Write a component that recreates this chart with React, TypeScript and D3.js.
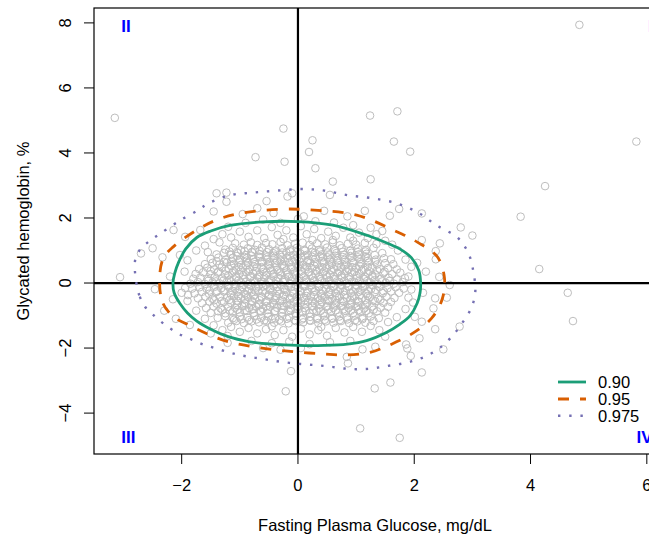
import React from "react";
import * as d3 from "d3";

const W = 649;
const H = 537;

// data ranges (R style: extended by 4%)
const xDataRange: [number, number] = [-3.15, 5.8];
const yDataRange: [number, number] = [-4.75, 7.95];
const xTicks = [-2, 0, 2, 4, 6];
const yTicks = [-4, -2, 0, 2, 4, 6, 8];
const xLabel = "Fasting Plasma Glucose, mg/dL";
const yLabel = "Glycated hemoglobin, %";

const legendLabels = ["0.90", "0.95", "0.975"];
const contourColors = ["#1B9E77", "#D95F02", "#7570B3"];

const quadrantLabels = [
  { label: "II", x: -3.04, y: 7.9, anchor: "start" },
  { label: "I", x: 6.1, y: 7.9, anchor: "end" },
  { label: "III", x: -3.04, y: -4.73, anchor: "start" },
  { label: "IV", x: 6.1, y: -4.73, anchor: "end" },
];

const contour90: [number, number][] = [
  [-2.15, 0], [-2.13, -0.3], [-2.03, -0.63], [-1.9, -0.92], [-1.74, -1.17], [-1.5, -1.42], [-1.2, -1.65],
  [-0.85, -1.8], [-0.45, -1.88], [0, -1.92], [0.45, -1.92], [0.85, -1.88], [1.18, -1.77], [1.52, -1.52],
  [1.75, -1.27], [1.93, -1.0], [2.05, -0.62], [2.1, -0.3], [2.11, 0], [2.08, 0.38], [1.95, 0.78],
  [1.75, 1.05], [1.58, 1.19], [1.2, 1.46], [0.6, 1.78], [0, 1.89], [-0.6, 1.88], [-1.17, 1.77],
  [-1.5, 1.6], [-1.74, 1.4], [-1.93, 1.05], [-2.05, 0.65], [-2.12, 0.3],
];

const contour95: [number, number][] = [
  [-2.38, 0], [-2.32, -0.63], [-2.14, -1.04], [-1.9, -1.27], [-1.54, -1.58], [-1.17, -1.82], [-0.77, -1.96],
  [-0.37, -2.06], [0.03, -2.13], [0.44, -2.18], [0.81, -2.21], [1.24, -2.13], [1.61, -1.88], [1.97, -1.55],
  [2.3, -1.08], [2.48, -0.5], [2.52, 0.15], [2.4, 0.8], [2.06, 1.25], [1.7, 1.58], [1.01, 2.09],
  [0.21, 2.25], [-0.31, 2.27], [-1.0, 2.14], [-1.4, 1.94], [-1.74, 1.63], [-2.14, 1.12], [-2.32, 0.75],
];

const contour975: [number, number][] = [
  [-2.78, 0], [-2.72, -0.42], [-2.63, -0.73], [-2.49, -0.98], [-2.34, -1.21], [-2.17, -1.43], [-2.0, -1.61],
  [-1.81, -1.75], [-1.63, -1.89], [-1.43, -2.0], [-1.23, -2.11], [-1.04, -2.2], [-0.84, -2.27], [-0.62, -2.33],
  [-0.42, -2.39], [-0.22, -2.44], [-0.02, -2.48], [0.19, -2.51], [0.39, -2.54], [0.59, -2.58], [0.8, -2.63],
  [1.0, -2.65], [1.21, -2.64], [1.41, -2.59], [1.61, -2.53], [1.81, -2.47], [2.01, -2.38], [2.2, -2.25],
  [2.38, -2.07], [2.54, -1.84], [2.68, -1.58], [2.8, -1.29], [2.93, -0.95], [3.01, -0.63], [3.05, -0.27],
  [3.04, 0.09], [3.01, 0.42], [2.96, 0.79], [2.87, 1.12], [2.73, 1.42], [2.38, 1.78], [2.07, 2.16],
  [1.7, 2.45], [1.27, 2.61], [0.86, 2.7], [0.46, 2.84], [0.06, 2.89], [-0.37, 2.84], [-0.77, 2.78],
  [-1.17, 2.7], [-1.54, 2.45], [-1.71, 2.25], [-2.06, 1.89], [-2.4, 1.48], [-2.57, 1.27], [-2.72, 1.02],
  [-2.8, 0.71],
];
const contours = [contour90, contour95, contour975];

const outlierPoints: [number, number][] = [
  [-3.15, 5.08], [4.84, 7.94], [5.82, 4.35], [4.25, 2.98], [3.83, 2.04], [4.15, 0.43], [4.64, -0.3],
  [4.73, -1.17], [-0.21, -3.33], [1.32, -3.24], [1.59, -3.06], [1.07, -4.47], [1.75, -4.76], [-0.12, -2.71],
  [2.13, -2.75], [-0.25, 4.75], [-0.73, 3.87], [-0.23, 3.73], [0.25, 4.39], [0.19, 4.03], [0.3, 3.53],
  [0.6, 3.12], [1.24, 5.15], [1.71, 5.28], [1.65, 4.35], [1.93, 4.04], [1.25, 3.19], [-3.06, 0.18],
];

const fringeUpper: [number, number][] = [
  [0.55, 2.71], [-0.1, 2.76], [-0.18, 2.66], [-0.54, 2.52], [-1.4, 2.76], [-1.23, 2.78], [-1.23, 2.5],
  [-1.45, 2.2], [-0.95, 2.12], [-0.7, 2.3], [-0.42, 2.15], [0.1, 2.05], [0.45, 2.22], [0.85, 2.05],
  [1.15, 2.22], [1.58, 2.07], [1.74, 2.28], [2.13, 2.14], [2.8, 1.71], [3.0, 1.46], [2.13, 1.32],
  [2.44, 1.22], [2.37, 0.98], [2.37, 0.73], [2.43, 0.19], [2.61, -0.06], [-2.7, 0.91], [-2.5, 1.07],
  [-2.33, 0.79], [-2.14, 1.63], [-2.46, -0.19], [-2.03, 0.86], [-1.94, 1.42], [-1.68, 1.63], [-1.2, 1.73],
  [-0.9, 1.85], [-0.6, 1.95], [-0.3, 1.85], [0.0, 1.97], [0.3, 1.9], [0.62, 1.86], [0.95, 1.78],
  [1.25, 1.7], [1.45, 1.6], [-1.45, 1.35], [-1.3, 1.5], [-1.15, 1.4], [-1.0, 1.58], [-0.85, 1.42],
  [-0.7, 1.62], [-0.58, 1.38], [-0.45, 1.72], [-0.35, 1.48], [-0.2, 1.62], [-0.08, 1.4], [0.05, 1.75],
  [0.15, 1.5], [0.28, 1.66], [0.4, 1.38], [0.52, 1.58], [0.65, 1.45], [0.78, 1.7], [0.9, 1.4],
  [1.05, 1.55], [1.2, 1.38], [1.35, 1.5], [1.5, 1.3], [1.62, 1.18], [1.72, 1.0], [1.85, 0.72],
  [1.95, 0.5], [1.9, 0.2], [2.2, 0.35], [2.05, 0.62], [-1.6, 1.15], [-1.75, 1.0], [-1.9, 0.7],
  [-1.95, 0.35], [-2.2, 0.2], [-1.35, 1.25], [-1.55, 0.95], [0.95, 1.3], [1.35, 1.2], [-0.25, 1.35],
  [0.25, 1.32], [0.6, 1.32],
];

const fringeLower: [number, number][] = [
  [2.56, -0.45], [2.36, -0.47], [2.33, -0.78], [2.15, -0.3], [1.98, -0.6], [1.95, -0.2], [1.85, -0.8],
  [1.9, -0.45], [1.7, -1.05], [1.55, -1.2], [1.4, -1.45], [1.25, -1.32], [1.1, -1.5], [0.95, -1.35],
  [0.8, -1.52], [0.65, -1.38], [0.5, -1.62], [0.35, -1.45], [0.2, -1.58], [0.05, -1.4], [-0.1, -1.65],
  [-0.25, -1.45], [-0.4, -1.6], [-0.55, -1.42], [-0.7, -1.55], [-0.85, -1.38], [-1.0, -1.5], [-1.15, -1.35],
  [-1.3, -1.45], [-1.45, -1.3], [-1.6, -1.1], [-1.75, -0.85], [-1.9, -0.55], [-2.0, -0.3], [-1.94, -0.15],
  [-1.89, -0.37], [-2.15, -0.5], [-2.3, -0.85], [-2.1, -1.1], [-1.86, -1.29], [-1.21, -1.84], [-1.21, -1.63],
  [-0.8, -1.78], [-0.45, -1.85], [-0.15, -1.8], [0.2, -1.88], [0.55, -1.82], [0.9, -1.78], [1.33, -1.96],
  [1.11, -2.04], [0.84, -2.27], [0.86, -2.47], [1.86, -1.89], [1.88, -2.01], [1.94, -2.24], [2.09, -1.7],
  [2.36, -1.42], [2.01, -1.04], [2.13, -1.19], [2.78, -1.34], [2.5, -2.04], [-0.3, -2.05], [0.05, -2.0],
  [-0.6, -2.0], [0.4, -1.35], [-0.45, -1.33], [1.5, -1.65], [-1.5, -1.55],
];

const coreUpper: [number, number][] = [
  [-1.08, 1.22], [-0.93, 1.18], [-0.81, 1.25], [-0.7, 1.17], [-0.55, 1.23], [-0.44, 1.19], [-0.3, 1.26], [-0.18, 1.16],
  [-0.05, 1.21], [0.08, 1.24], [0.2, 1.17], [0.33, 1.22], [0.47, 1.19], [0.6, 1.25], [0.72, 1.16], [0.86, 1.21],
  [1.0, 1.18], [1.15, 1.23],
  [-1.25, 1.03], [-1.12, 1.08], [-0.98, 1.01], [-0.86, 1.07], [-0.74, 1.02], [-0.62, 1.09], [-0.5, 1.04], [-0.38, 1.0],
  [-0.27, 1.07], [-0.13, 1.03], [-0.02, 1.08], [0.11, 1.01], [0.24, 1.06], [0.36, 1.02], [0.5, 1.09], [0.63, 1.03],
  [0.75, 1.07], [0.9, 1.0], [1.03, 1.06], [1.17, 1.02], [1.3, 1.08],
  [-1.4, 0.88], [-1.27, 0.93], [-1.15, 0.87], [-1.03, 0.92], [-0.9, 0.86], [-0.79, 0.94], [-0.66, 0.89], [-0.55, 0.85],
  [-0.43, 0.92], [-0.31, 0.88], [-0.2, 0.94], [-0.08, 0.86], [0.04, 0.91], [0.16, 0.87], [0.29, 0.93], [0.41, 0.88],
  [0.54, 0.85], [0.66, 0.92], [0.79, 0.87], [0.92, 0.93], [1.05, 0.88], [1.18, 0.9], [1.32, 0.86], [1.45, 0.92],
  [-1.5, 0.74], [-1.37, 0.78], [-1.24, 0.72], [-1.12, 0.77], [-1.0, 0.71], [-0.88, 0.76], [-0.77, 0.73], [-0.65, 0.79],
  [-0.53, 0.72], [-0.41, 0.76], [-0.3, 0.7], [-0.18, 0.77], [-0.06, 0.73], [0.06, 0.78], [0.18, 0.71], [0.3, 0.75],
  [0.43, 0.79], [0.55, 0.72], [0.68, 0.76], [0.8, 0.71], [0.93, 0.78], [1.06, 0.73], [1.2, 0.77], [1.34, 0.72],
  [1.48, 0.76], [1.6, 0.73],
  [-1.6, 0.58], [-1.47, 0.62], [-1.35, 0.57], [-1.22, 0.63], [-1.1, 0.59], [-0.98, 0.56], [-0.86, 0.62], [-0.74, 0.58],
  [-0.62, 0.64], [-0.51, 0.57], [-0.39, 0.61], [-0.27, 0.56], [-0.15, 0.63], [-0.03, 0.59], [0.09, 0.55], [0.21, 0.62],
  [0.33, 0.58], [0.45, 0.63], [0.58, 0.57], [0.7, 0.61], [0.83, 0.56], [0.96, 0.62], [1.09, 0.58], [1.22, 0.63],
  [1.36, 0.57], [1.5, 0.61], [1.64, 0.58],
  [-1.7, 0.43], [-1.56, 0.47], [-1.44, 0.42], [-1.31, 0.48], [-1.19, 0.44], [-1.07, 0.41], [-0.95, 0.47], [-0.83, 0.43],
  [-0.71, 0.48], [-0.6, 0.42], [-0.48, 0.46], [-0.36, 0.41], [-0.24, 0.47], [-0.12, 0.44], [0.0, 0.49], [0.12, 0.42],
  [0.24, 0.46], [0.37, 0.41], [0.49, 0.47], [0.62, 0.43], [0.74, 0.48], [0.87, 0.42], [1.0, 0.46], [1.13, 0.41],
  [1.27, 0.47], [1.41, 0.43], [1.55, 0.46], [1.7, 0.42],
  [-1.76, 0.28], [-1.63, 0.33], [-1.5, 0.27], [-1.38, 0.32], [-1.25, 0.26], [-1.13, 0.31], [-1.01, 0.27], [-0.89, 0.34],
  [-0.77, 0.29], [-0.66, 0.25], [-0.54, 0.32], [-0.42, 0.28], [-0.3, 0.33], [-0.18, 0.26], [-0.06, 0.3], [0.06, 0.27],
  [0.18, 0.33], [0.3, 0.28], [0.43, 0.32], [0.55, 0.26], [0.68, 0.31], [0.8, 0.27], [0.93, 0.33], [1.06, 0.28],
  [1.2, 0.32], [1.33, 0.26], [1.47, 0.3], [1.62, 0.27], [1.76, 0.32],
  [-1.8, 0.13], [-1.68, 0.17], [-1.55, 0.12], [-1.43, 0.18], [-1.3, 0.14], [-1.18, 0.1], [-1.06, 0.16], [-0.94, 0.12],
  [-0.82, 0.18], [-0.7, 0.13], [-0.58, 0.17], [-0.46, 0.11], [-0.34, 0.16], [-0.22, 0.12], [-0.1, 0.18], [0.02, 0.14],
  [0.14, 0.1], [0.26, 0.16], [0.38, 0.12], [0.5, 0.18], [0.63, 0.13], [0.75, 0.17], [0.88, 0.11], [1.01, 0.15],
  [1.14, 0.12], [1.28, 0.18], [1.42, 0.13], [1.56, 0.16], [1.7, 0.11], [1.84, 0.15],
];

const coreLower: [number, number][] = [
  [-1.85, -0.02], [-1.72, 0.03], [-1.6, -0.03], [-1.47, 0.02], [-1.35, -0.01], [-1.22, 0.04], [-1.1, -0.03], [-0.98, 0.01],
  [-0.86, -0.04], [-0.74, 0.03], [-0.62, -0.02], [-0.5, 0.02], [-0.38, -0.03], [-0.26, 0.04], [-0.14, -0.01], [-0.02, 0.03],
  [0.1, -0.04], [0.22, 0.01], [0.34, -0.02], [0.46, 0.03], [0.58, -0.03], [0.71, 0.02], [0.84, -0.01], [0.97, 0.04],
  [1.1, -0.02], [1.23, 0.02], [1.37, -0.03], [1.51, 0.01], [1.65, -0.02], [1.8, 0.03],
  [-1.82, -0.17], [-1.69, -0.13], [-1.57, -0.18], [-1.44, -0.12], [-1.32, -0.16], [-1.2, -0.11], [-1.08, -0.17], [-0.96, -0.13],
  [-0.84, -0.19], [-0.72, -0.14], [-0.6, -0.11], [-0.48, -0.17], [-0.36, -0.12], [-0.24, -0.18], [-0.12, -0.13], [0.0, -0.16],
  [0.12, -0.11], [0.24, -0.17], [0.36, -0.13], [0.48, -0.19], [0.61, -0.12], [0.73, -0.16], [0.86, -0.11], [0.99, -0.17],
  [1.12, -0.13], [1.26, -0.18], [1.4, -0.12], [1.54, -0.16], [1.68, -0.13], [1.82, -0.17],
  [-1.78, -0.32], [-1.65, -0.27], [-1.53, -0.33], [-1.4, -0.28], [-1.28, -0.26], [-1.16, -0.32], [-1.04, -0.27], [-0.92, -0.33],
  [-0.8, -0.29], [-0.68, -0.25], [-0.56, -0.31], [-0.44, -0.27], [-0.32, -0.34], [-0.2, -0.28], [-0.08, -0.32], [0.04, -0.26],
  [0.16, -0.31], [0.28, -0.27], [0.4, -0.33], [0.53, -0.28], [0.65, -0.32], [0.78, -0.26], [0.91, -0.31], [1.04, -0.27],
  [1.18, -0.33], [1.32, -0.28], [1.46, -0.31], [1.6, -0.26], [1.74, -0.3],
  [-1.72, -0.47], [-1.59, -0.42], [-1.47, -0.48], [-1.34, -0.43], [-1.22, -0.46], [-1.1, -0.41], [-0.98, -0.47], [-0.86, -0.43],
  [-0.74, -0.49], [-0.62, -0.44], [-0.5, -0.41], [-0.38, -0.47], [-0.26, -0.42], [-0.14, -0.48], [-0.02, -0.43], [0.1, -0.46],
  [0.22, -0.41], [0.34, -0.47], [0.46, -0.43], [0.59, -0.49], [0.71, -0.42], [0.84, -0.46], [0.97, -0.41], [1.1, -0.47],
  [1.24, -0.43], [1.38, -0.48], [1.52, -0.42], [1.66, -0.46],
  [-1.65, -0.62], [-1.52, -0.57], [-1.4, -0.63], [-1.27, -0.58], [-1.15, -0.61], [-1.03, -0.56], [-0.91, -0.62], [-0.79, -0.58],
  [-0.67, -0.64], [-0.55, -0.57], [-0.43, -0.61], [-0.31, -0.56], [-0.19, -0.63], [-0.07, -0.58], [0.05, -0.62], [0.17, -0.57],
  [0.29, -0.63], [0.41, -0.59], [0.54, -0.55], [0.66, -0.61], [0.79, -0.57], [0.92, -0.63], [1.05, -0.58], [1.19, -0.62],
  [1.33, -0.56], [1.47, -0.61], [1.6, -0.58],
  [-1.58, -0.77], [-1.45, -0.72], [-1.33, -0.78], [-1.2, -0.73], [-1.08, -0.76], [-0.96, -0.71], [-0.84, -0.77], [-0.72, -0.73],
  [-0.6, -0.79], [-0.48, -0.72], [-0.36, -0.76], [-0.24, -0.71], [-0.12, -0.78], [0.0, -0.74], [0.12, -0.77], [0.24, -0.72],
  [0.36, -0.78], [0.49, -0.73], [0.61, -0.76], [0.74, -0.71], [0.87, -0.77], [1.0, -0.73], [1.14, -0.78], [1.28, -0.72],
  [1.42, -0.76], [1.55, -0.73],
  [-1.5, -0.92], [-1.37, -0.87], [-1.25, -0.93], [-1.12, -0.88], [-1.0, -0.91], [-0.88, -0.86], [-0.76, -0.92], [-0.64, -0.88],
  [-0.52, -0.94], [-0.4, -0.87], [-0.28, -0.91], [-0.16, -0.86], [-0.04, -0.93], [0.08, -0.89], [0.2, -0.92], [0.32, -0.87],
  [0.44, -0.93], [0.57, -0.88], [0.69, -0.91], [0.82, -0.86], [0.95, -0.92], [1.08, -0.88], [1.22, -0.93], [1.36, -0.87],
  [1.5, -0.91],
  [-1.38, -1.07], [-1.25, -1.02], [-1.12, -1.08], [-1.0, -1.03], [-0.87, -1.06], [-0.75, -1.01], [-0.63, -1.07], [-0.51, -1.03],
  [-0.39, -1.09], [-0.27, -1.02], [-0.15, -1.06], [-0.03, -1.01], [0.09, -1.08], [0.21, -1.04], [0.33, -1.07], [0.46, -1.02],
  [0.58, -1.08], [0.71, -1.03], [0.84, -1.06], [0.97, -1.01], [1.11, -1.07], [1.25, -1.03], [1.39, -1.08],
  [-1.2, -1.22], [-1.06, -1.17], [-0.93, -1.23], [-0.8, -1.18], [-0.67, -1.21], [-0.54, -1.16], [-0.41, -1.22], [-0.29, -1.18],
  [-0.16, -1.24], [-0.04, -1.17], [0.09, -1.21], [0.22, -1.16], [0.35, -1.23], [0.48, -1.18], [0.61, -1.22], [0.74, -1.17],
  [0.88, -1.23], [1.02, -1.18], [1.16, -1.22], [1.3, -1.17],
];

const coreInner: [number, number][] = [
  [-1.05, 0.83], [-0.92, 0.8], [-0.8, 0.84], [-0.67, 0.81], [-0.54, 0.79], [-0.41, 0.84], [-0.28, 0.8], [-0.14, 0.83],
  [-0.01, 0.79], [0.12, 0.84], [0.25, 0.8], [0.38, 0.82], [0.51, 0.79], [0.64, 0.84], [0.77, 0.8], [0.9, 0.83],
  [1.03, 0.79], [1.16, 0.82],
  [-1.15, 0.53], [-1.02, 0.5], [-0.89, 0.54], [-0.76, 0.51], [-0.63, 0.49], [-0.5, 0.54], [-0.37, 0.5], [-0.24, 0.53],
  [-0.11, 0.49], [0.02, 0.54], [0.15, 0.5], [0.28, 0.53], [0.41, 0.49], [0.54, 0.54], [0.67, 0.5], [0.8, 0.53],
  [0.93, 0.49], [1.06, 0.52], [1.2, 0.5],
  [-1.2, 0.23], [-1.07, 0.2], [-0.94, 0.24], [-0.81, 0.21], [-0.68, 0.19], [-0.55, 0.24], [-0.42, 0.2], [-0.29, 0.23],
  [-0.16, 0.19], [-0.03, 0.24], [0.1, 0.2], [0.23, 0.23], [0.36, 0.19], [0.49, 0.24], [0.62, 0.2], [0.75, 0.23],
  [0.88, 0.19], [1.01, 0.22], [1.15, 0.2], [1.28, 0.23],
  [-1.2, -0.07], [-1.07, -0.1], [-0.94, -0.06], [-0.81, -0.09], [-0.68, -0.11], [-0.55, -0.06], [-0.42, -0.1], [-0.29, -0.07],
  [-0.16, -0.11], [-0.03, -0.06], [0.1, -0.1], [0.23, -0.07], [0.36, -0.11], [0.49, -0.06], [0.62, -0.1], [0.75, -0.07],
  [0.88, -0.11], [1.01, -0.08], [1.15, -0.1], [1.28, -0.07],
  [-1.15, -0.37], [-1.02, -0.4], [-0.89, -0.36], [-0.76, -0.39], [-0.63, -0.41], [-0.5, -0.36], [-0.37, -0.4], [-0.24, -0.37],
  [-0.11, -0.41], [0.02, -0.36], [0.15, -0.4], [0.28, -0.37], [0.41, -0.41], [0.54, -0.36], [0.67, -0.4], [0.8, -0.37],
  [0.93, -0.41], [1.06, -0.38], [1.2, -0.4],
  [-1.05, -0.67], [-0.92, -0.7], [-0.8, -0.66], [-0.67, -0.69], [-0.54, -0.71], [-0.41, -0.66], [-0.28, -0.7], [-0.14, -0.67],
  [-0.01, -0.71], [0.12, -0.66], [0.25, -0.7], [0.38, -0.67], [0.51, -0.71], [0.64, -0.66], [0.77, -0.7], [0.9, -0.67],
  [1.03, -0.71], [1.16, -0.68],
];

const coreExtra: [number, number][] = [
  [-1.18, 0.97], [-1.05, 0.95], [-0.92, 0.98], [-0.79, 0.96], [-0.66, 0.99], [-0.53, 0.95], [-0.4, 0.97], [-0.27, 0.94],
  [-0.14, 0.98], [-0.01, 0.96], [0.12, 0.99], [0.25, 0.95], [0.38, 0.97], [0.51, 0.94], [0.64, 0.98], [0.77, 0.96],
  [0.9, 0.99], [1.03, 0.95], [1.16, 0.97],
  [-1.4, 0.67], [-1.27, 0.65], [-1.14, 0.68], [-1.01, 0.66], [-0.88, 0.69], [-0.75, 0.65], [-0.62, 0.67], [-0.49, 0.64],
  [-0.36, 0.68], [-0.23, 0.66], [-0.1, 0.69], [0.03, 0.65], [0.16, 0.67], [0.29, 0.64], [0.42, 0.68], [0.55, 0.66],
  [0.68, 0.69], [0.81, 0.65], [0.94, 0.67], [1.07, 0.64], [1.2, 0.68], [1.33, 0.66],
  [-1.5, 0.37], [-1.37, 0.35], [-1.24, 0.38], [-1.11, 0.36], [-0.98, 0.39], [-0.85, 0.35], [-0.72, 0.37], [-0.59, 0.34],
  [-0.46, 0.38], [-0.33, 0.36], [-0.2, 0.39], [-0.07, 0.35], [0.06, 0.37], [0.19, 0.34], [0.32, 0.38], [0.45, 0.36],
  [0.58, 0.39], [0.71, 0.35], [0.84, 0.37], [0.97, 0.34], [1.1, 0.38], [1.23, 0.36], [1.36, 0.39], [1.49, 0.35],
  [-1.54, 0.07], [-1.41, 0.05], [-1.28, 0.08], [-1.15, 0.06], [-1.02, 0.09], [-0.89, 0.05], [-0.76, 0.07], [-0.63, 0.04],
  [-0.5, 0.08], [-0.37, 0.06], [-0.24, 0.09], [-0.11, 0.05], [0.02, 0.07], [0.15, 0.04], [0.28, 0.08], [0.41, 0.06],
  [0.54, 0.09], [0.67, 0.05], [0.8, 0.07], [0.93, 0.04], [1.06, 0.08], [1.19, 0.06], [1.32, 0.09], [1.45, 0.05],
  [1.58, 0.07],
  [-1.52, -0.23], [-1.39, -0.25], [-1.26, -0.22], [-1.13, -0.24], [-1.0, -0.21], [-0.87, -0.25], [-0.74, -0.23], [-0.61, -0.26],
  [-0.48, -0.22], [-0.35, -0.24], [-0.22, -0.21], [-0.09, -0.25], [0.04, -0.23], [0.17, -0.26], [0.3, -0.22], [0.43, -0.24],
  [0.56, -0.21], [0.69, -0.25], [0.82, -0.23], [0.95, -0.26], [1.08, -0.22], [1.21, -0.24], [1.34, -0.21], [1.47, -0.25],
  [-1.44, -0.53], [-1.31, -0.55], [-1.18, -0.52], [-1.05, -0.54], [-0.92, -0.51], [-0.79, -0.55], [-0.66, -0.53], [-0.53, -0.56],
  [-0.4, -0.52], [-0.27, -0.54], [-0.14, -0.51], [-0.01, -0.55], [0.12, -0.53], [0.25, -0.56], [0.38, -0.52], [0.51, -0.54],
  [0.64, -0.51], [0.77, -0.55], [0.9, -0.53], [1.03, -0.56], [1.16, -0.52], [1.29, -0.54], [1.42, -0.51],
  [-1.3, -0.83], [-1.17, -0.85], [-1.04, -0.82], [-0.91, -0.84], [-0.78, -0.81], [-0.65, -0.85], [-0.52, -0.83], [-0.39, -0.86],
  [-0.26, -0.82], [-0.13, -0.84], [0.0, -0.81], [0.13, -0.85], [0.26, -0.83], [0.39, -0.86], [0.52, -0.82], [0.65, -0.84],
  [0.78, -0.81], [0.91, -0.85], [1.04, -0.83], [1.17, -0.86], [1.3, -0.82],
  [-1.1, -1.13], [-0.97, -1.11], [-0.84, -1.14], [-0.71, -1.12], [-0.58, -1.15], [-0.45, -1.11], [-0.32, -1.13], [-0.19, -1.1],
  [-0.06, -1.14], [0.07, -1.12], [0.2, -1.15], [0.33, -1.11], [0.46, -1.13], [0.59, -1.1], [0.72, -1.14], [0.85, -1.12],
  [0.98, -1.15], [1.11, -1.11],
];

const allPoints = [...coreUpper, ...coreLower, ...coreInner, ...coreExtra, ...fringeUpper, ...fringeLower, ...outlierPoints];

const FONT = "'Liberation Sans', Arial, Helvetica, sans-serif";

export default function App() {
  const plotLeft = 94;
  const plotRight = 656;
  const plotTop = 8;
  const plotBottom = 454;

  const xe = (xDataRange[1] - xDataRange[0]) * 0.04;
  const ye = (yDataRange[1] - yDataRange[0]) * 0.04;
  const x = d3.scaleLinear().domain([xDataRange[0] - xe, xDataRange[1] + xe]).range([plotLeft, plotRight]);
  const y = d3.scaleLinear().domain([yDataRange[0] - ye, yDataRange[1] + ye]).range([plotBottom, plotTop]);

  const line = d3
    .line<[number, number]>()
    .x((d) => x(d[0]))
    .y((d) => y(d[1]))
    .curve(d3.curveCatmullRomClosed.alpha(0.5));

  const dashes = ["none", "11 11", "2.4 8.8"];
  const widths = [2.8, 2.8, 2.4];

  const legendX0 = 558;
  const legendX1 = 586;
  const legendYs = [382, 399, 415.7];

  return (
    <svg
      width={W}
      height={H}
      style={{ position: "absolute", left: 0, top: 0, background: "#fff" }}
      fontFamily={FONT}
    >
      <rect x={0} y={0} width={W} height={H} fill="#fff" />
      {/* points */}
      <g fill="none" stroke="#BEBEBE" strokeWidth={1}>
        {allPoints.map((p, i) => (
          <circle key={i} cx={x(p[0])} cy={y(p[1])} r={3.8} />
        ))}
      </g>
      {/* zero lines */}
      <line x1={x(0)} x2={x(0)} y1={plotTop} y2={plotBottom} stroke="#000" strokeWidth={2.2} />
      <line x1={plotLeft} x2={plotRight} y1={y(0)} y2={y(0)} stroke="#000" strokeWidth={2.2} />
      {/* contours */}
      {contours.map((c, i) => (
        <path
          key={i}
          d={line(c) || ""}
          fill="none"
          stroke={contourColors[i]}
          strokeWidth={widths[i]}
          strokeDasharray={dashes[i]}
        />
      ))}
      {/* box */}
      <rect
        x={plotLeft}
        y={plotTop}
        width={plotRight - plotLeft}
        height={plotBottom - plotTop}
        fill="none"
        stroke="#000"
        strokeWidth={1.2}
      />
      {/* x axis */}
      {xTicks.map((t) => (
        <g key={t}>
          <line x1={x(t)} x2={x(t)} y1={plotBottom} y2={plotBottom + 10} stroke="#000" strokeWidth={1} />
          <text x={x(t)} y={491} textAnchor="middle" fontSize={16.5} fill="#000">
            {t < 0 ? "\u2212" + Math.abs(t) : String(t)}
          </text>
        </g>
      ))}
      {/* y axis */}
      {yTicks.map((t) => (
        <g key={t}>
          <line x1={plotLeft - 10} x2={plotLeft} y1={y(t)} y2={y(t)} stroke="#000" strokeWidth={1} />
          <text
            transform={`translate(70.5,${y(t)}) rotate(-90)`}
            textAnchor="middle"
            fontSize={16.5}
            fill="#000"
          >
            {t < 0 ? "\u2212" + Math.abs(t) : String(t)}
          </text>
        </g>
      ))}
      <text x={(plotLeft + plotRight) / 2} y={530.5} textAnchor="middle" fontSize={16.5} fill="#000">
        {xLabel}
      </text>
      <text
        transform={`translate(28.5,${(plotTop + plotBottom) / 2}) rotate(-90)`}
        textAnchor="middle"
        fontSize={16.5}
        fill="#000"
      >
        {yLabel}
      </text>
      {/* quadrant labels */}
      {quadrantLabels.map((q) => (
        <text
          key={q.label}
          x={x(q.x)}
          y={y(q.y)}
          dy="0.36em"
          textAnchor={q.anchor as any}
          fontSize={17}
          fontWeight="bold"
          fill="#0000FF"
        >
          {q.label}
        </text>
      ))}
      {/* legend */}
      {legendLabels.map((l, i) => (
        <g key={l}>
          <line
            x1={legendX0}
            x2={legendX1}
            y1={legendYs[i]}
            y2={legendYs[i]}
            stroke={contourColors[i]}
            strokeWidth={widths[i]}
            strokeDasharray={dashes[i]}
          />
          <text x={598} y={legendYs[i]} dy="0.36em" fontSize={16.5} fill="#000">
            {l}
          </text>
        </g>
      ))}
    </svg>
  );
}
